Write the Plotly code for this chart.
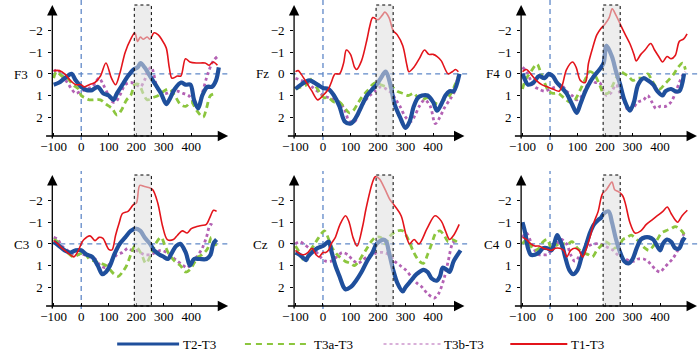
import plotly.graph_objects as go

# ---------------- data (ms, µV) ----------------
channels = ["F3", "Fz", "F4", "C3", "Cz", "C4"]
series_names = ["T3b-T3", "T3a-T3", "T2-T3", "T1-T3"]
x_tickvals = [-100, 0, 100, 200, 300, 400]
y_tickvals = [-2, -1, 0, 1, 2]
window_ms = [193, 255]

# F3
f3_t1_t = [-100,-80,-60,-40,-20,0,10,30,50,70,90,110,125,140,160,180,195,205,215,225,240,250,265,280,292,309,320,330,350,362,379,395,420,450,465,480,495]
f3_t1_v = [-0.15,-0.15,0,0.3,0.5,0.5,0.6,0.5,0.4,0.1,-0.5,0.2,0.5,0.0,-1.0,-1.6,-1.9,-1.5,-1.7,-1.6,-1.7,-1.6,-1.9,-1.8,-1.6,-1.2,-0.3,0.2,0.1,0.1,-0.7,-0.55,-0.5,-0.5,-0.4,-0.55,-0.4]
f3_t2_t = [-100,-80,-60,-35,-20,0,20,40,60,80,100,117,130,150,170,190,205,216,230,250,270,290,309,320,340,363,380,397,410,425,440,458,475,490,500]
f3_t2_v = [0.5,0.4,0.2,0.0,0.3,0.6,0.75,0.75,0.6,0.9,1.0,1.2,0.9,0.5,0.1,-0.2,-0.3,-0.5,-0.3,0.1,0.5,0.9,1.4,1.2,0.7,0.4,0.5,0.5,1.2,1.6,1.0,0.6,0.6,0.3,-0.3]
f3_t3a_t = [-100,-90,-70,-50,-30,-10,0,13,30,50,70,90,112,130,145,165,180,195,210,225,240,260,280,300,320,340,360,380,400,420,443,455,470,490]
f3_t3a_v = [0.2,-0.1,0.1,0.2,0.5,0.7,1.0,1.1,1.2,1.2,1.2,1.4,1.6,1.9,1.7,1.2,1.0,0.5,0.5,0.9,1.2,1.1,1.0,0.8,0.7,1.0,1.4,1.5,1.3,1.7,2.0,1.6,1.0,0.9]
f3_t3b_t = [-100,-85,-70,-50,-35,-20,0,20,40,65,80,100,115,125,140,160,180,200,215,230,245,255,275,290,310,330,350,370,390,410,425,440,460,480,495]
f3_t3b_v = [-0.1,-0.2,0.1,0.4,0.7,0.9,0.8,0.7,0.6,0.2,0.5,1.0,1.3,1.3,1.0,0.5,0.4,0.5,0.6,0.3,-0.2,-0.3,0.6,0.9,0.9,0.8,0.8,0.9,1.0,1.3,1.5,0.9,0.0,-0.6,-0.8]

# Fz
fz_t1_t = [-100,-90,-80,-60,-40,-19,0,20,30,44,60,75,85,100,115,122,140,160,170,181,200,215,225,240,255,270,290,305,312,330,350,369,385,400,415,430,455,470,482,492]
fz_t1_v = [-0.1,-0.15,0.0,0.4,0.8,1.2,1.0,0.7,0.4,0.0,0.0,-0.5,-1.1,-0.9,-0.3,-0.2,-0.6,-1.6,-2.2,-2.6,-2.5,-2.7,-2.85,-2.6,-2.0,-1.8,-1.3,-0.4,-0.1,-0.3,-0.7,-1.1,-0.9,-0.9,-0.8,-0.6,0.0,-0.1,-0.2,-0.1]
fz_t2_t = [-100,-80,-50,-20,0,20,40,60,79,100,110,125,140,160,180,195,210,228,245,260,280,300,315,330,345,360,380,400,414,430,445,460,475,496]
fz_t2_v = [0.7,0.5,0.3,0.5,0.65,0.7,1.0,1.5,2.2,2.3,2.2,1.9,1.5,1.0,0.7,0.5,0.2,-0.1,0.5,1.4,2.0,2.5,2.2,1.5,1.1,1.0,1.0,1.3,1.7,1.4,1.0,0.8,0.8,0.0]
fz_t3a_t = [-100,-80,-60,-50,-30,-10,4,20,40,60,80,96,110,125,140,160,180,195,210,230,250,270,290,310,330,345,360,380,400,420,440,460,480,495]
fz_t3a_v = [0.7,0.6,0.5,0.2,0.5,0.9,1.1,1.1,1.3,1.3,1.6,1.8,1.7,1.4,1.1,0.8,0.5,0.4,0.5,0.6,0.6,0.8,0.9,1.0,0.9,1.1,1.2,1.1,1.3,1.4,1.2,1.0,0.5,0.0]
fz_t3b_t = [-100,-80,-60,-40,-20,0,20,40,60,80,96,115,130,150,170,190,210,230,250,265,280,300,320,335,350,370,390,408,425,440,460,475,490]
fz_t3b_v = [0.2,0.3,0.4,0.6,0.8,1.0,1.1,1.2,1.3,1.7,2.2,2.2,1.8,1.3,1.0,0.8,0.6,0.7,0.9,1.2,1.5,2.0,2.2,1.9,1.5,1.2,1.5,2.3,2.0,1.6,1.2,0.9,0.1]

# F4
f4_t1_t = [-100,-85,-70,-50,-30,-10,10,33,45,60,82,95,110,128,140,155,170,185,200,215,226,240,255,270,290,305,313,330,345,366,380,395,409,425,440,455,470,485,498]
f4_t1_v = [-0.1,-0.2,0.0,0.3,0.5,0.6,0.7,0.8,0.5,-0.2,-0.55,-0.3,0.3,0.4,-0.5,-1.2,-1.8,-2.1,-2.3,-2.6,-3.0,-2.7,-2.3,-1.9,-1.4,-0.9,-0.6,-0.9,-1.1,-1.4,-1.1,-0.8,-0.55,-0.8,-0.7,-0.85,-1.5,-1.6,-1.85]
f4_t2_t = [-100,-90,-80,-60,-40,-20,-5,10,25,40,60,80,97,110,125,140,160,180,195,205,225,240,255,270,290,305,320,340,355,375,390,409,420,440,455,470,487]
f4_t2_v = [0.0,0.3,0.5,0.4,0.1,0.2,0.0,0.1,0.4,0.6,0.9,1.4,1.8,1.4,0.9,0.5,0.1,-0.2,-0.5,-1.3,-0.8,-0.1,0.5,1.2,1.7,1.3,0.5,0.2,0.3,0.5,0.8,1.0,0.8,0.7,0.8,0.8,0.0]
f4_t3a_t = [-100,-90,-75,-47,-35,-20,-5,10,30,50,70,85,100,115,130,144,160,180,195,210,225,240,255,270,285,300,320,340,355,370,385,400,415,430,450,465,482,492]
f4_t3a_v = [0.7,0.3,0.0,-0.45,-0.1,0.4,0.8,0.9,0.9,1.1,1.3,1.3,1.0,0.6,0.2,-0.1,0.0,0.5,0.9,0.9,0.6,0.2,-0.1,0.0,0.1,0.3,0.2,0.2,0.0,0.3,0.6,0.7,0.5,0.3,0.0,-0.3,-0.5,-0.2]
f4_t3b_t = [-100,-85,-70,-55,-40,-20,0,20,40,60,80,95,110,125,140,150,165,180,195,205,220,240,255,270,285,300,320,340,355,370,385,400,420,440,455,470,485,492]
f4_t3b_v = [-0.3,-0.1,0.3,0.6,0.7,0.8,0.7,0.6,0.5,0.8,1.0,1.2,1.1,0.8,0.4,0.3,0.4,0.4,0.8,1.0,0.9,0.5,0.9,1.3,1.7,1.6,1.3,1.2,1.0,1.3,1.6,1.5,1.5,1.3,0.9,0.4,0.0,-0.1]

# C3
c3_t1_t = [-100,-85,-70,-50,-27,-10,0,10,32,50,65,79,100,112,125,138,150,170,189,201,213,230,245,260,278,296,313,335,350,367,385,400,420,437,455,467,481,492]
c3_t1_v = [-0.15,0.0,0.2,0.4,0.6,0.3,0.0,-0.2,-0.37,-0.15,-0.3,-0.25,0.25,0.28,-0.4,-0.96,-1.4,-1.5,-1.8,-1.9,-2.7,-2.65,-2.6,-2.5,-1.9,-0.8,-0.2,-0.2,-0.4,-0.6,-0.5,-0.7,-0.8,-0.85,-0.9,-1.2,-1.55,-1.5]
c3_t2_t = [-100,-80,-60,-40,-20,0,20,40,60,77,90,105,120,140,160,180,198,215,230,250,265,285,300,315,330,345,360,380,395,410,430,455,470,480,492]
c3_t2_v = [-0.1,0.1,0.3,0.4,0.3,0.3,0.5,0.6,1.0,1.4,1.3,1.0,0.5,0.0,-0.3,-0.6,-0.7,-0.6,-0.3,0.0,0.3,0.5,0.6,0.7,0.4,0.1,0.0,0.4,1.0,0.7,0.7,0.7,0.5,0.0,-0.2]
c3_t3a_t = [-100,-85,-70,-50,-30,-10,10,30,50,70,90,105,120,135,150,165,180,195,205,220,235,250,270,290,305,320,340,360,380,395,410,425,440,460,473,490]
c3_t3a_v = [-0.2,-0.1,0.2,0.4,0.6,0.5,0.4,0.7,0.8,0.9,1.0,1.2,1.4,1.5,1.3,1.0,0.5,0.1,0.2,0.5,0.9,0.6,0.0,-0.3,0.1,0.5,0.8,1.0,1.3,1.2,0.9,0.6,0.5,0.2,-0.3,0.1]
c3_t3b_t = [-100,-85,-70,-50,-30,-10,10,30,50,70,90,110,130,150,170,185,200,215,230,250,270,290,310,330,350,370,385,400,420,440,455,470,482]
c3_t3b_v = [-0.3,-0.2,0.1,0.3,0.5,0.5,0.5,0.6,0.7,1.0,1.1,0.8,0.5,0.4,0.2,0.3,0.3,0.4,0.5,0.5,0.4,0.3,0.4,0.6,0.8,1.0,1.1,0.9,0.6,0.2,-0.3,-0.9,-0.8]

# Cz
cz_t1_t = [-100,-85,-70,-55,-40,-25,-15,0,10,20,30,45,62,82,95,109,124,144,156,179,190,205,226,243,261,284,302,315,331,349,378,407,430,445,460,475,495]
cz_t1_v = [0.3,0.45,0.5,0.4,0.2,0.5,0.6,0.4,0.4,0.3,0.0,-0.3,-0.9,-1.3,-1.0,-0.3,0.1,-0.8,-1.6,-2.8,-3.1,-3.0,-2.5,-2.05,-1.75,-1.3,-0.4,0.0,-0.2,0.0,-0.7,-1.3,-1.05,-0.6,-0.2,-0.4,-0.9]
cz_t2_t = [-100,-85,-61,-55,-40,-20,0,21,30,45,60,75,82,100,120,140,160,180,195,220,230,240,255,270,290,300,320,340,366,380,395,413,425,435,450,460,475,500]
cz_t2_v = [0.4,0.5,0.75,0.6,0.4,0.2,0.1,-0.1,0.3,1.0,1.5,2.0,2.1,2.0,1.7,1.3,0.8,0.4,0.0,-0.2,-0.1,0.4,1.2,1.8,2.2,2.0,1.7,1.4,1.2,1.3,1.6,1.7,1.5,1.1,1.2,1.3,0.8,0.3]
cz_t3a_t = [-100,-85,-67,-55,-45,-30,-15,5,15,30,45,60,80,100,115,130,145,160,175,190,210,225,240,255,270,290,310,330,350,365,380,395,410,425,440,455,470,485,495]
cz_t3a_v = [0.1,0.4,0.8,0.6,0.3,0.0,-0.3,-0.6,-0.4,0.1,0.4,0.6,0.8,0.9,1.0,0.8,0.5,0.2,-0.1,-0.3,-0.3,0.0,-0.3,-0.5,-0.6,-0.6,-0.2,0.4,0.8,0.9,0.5,0.0,-0.5,-0.6,-0.4,-0.1,-0.2,-0.1,0.0]
cz_t3b_t = [-100,-85,-70,-50,-30,-10,10,30,50,70,90,105,126,140,160,180,200,220,240,260,280,300,320,340,360,380,405,420,440,455,470,483]
cz_t3b_v = [0.0,-0.1,0.0,0.2,0.3,0.6,0.8,0.8,0.6,0.4,0.5,0.7,0.9,0.8,0.6,0.5,0.4,0.4,0.5,0.8,1.0,1.2,1.5,1.8,2.0,2.3,2.5,2.3,1.6,0.8,0.0,-0.2]

# C4
c4_t1_t = [-100,-85,-70,-55,-40,-25,-10,5,20,35,50,61,75,90,105,119,130,145,160,175,190,205,225,235,250,265,275,290,309,330,350,370,390,410,426,440,455,464,480,499]
c4_t1_v = [-0.3,-0.2,0.0,0.1,0.1,0.2,0.25,0.3,0.2,0.2,0.3,0.6,0.3,0.2,0.3,0.6,0.3,-0.3,-1.0,-1.5,-2.3,-2.5,-2.85,-2.5,-2.4,-2.2,-1.8,-1.0,-0.5,-0.6,-0.9,-1.1,-1.3,-1.5,-1.7,-1.4,-1.1,-1.0,-1.3,-1.55]
c4_t2_t = [-100,-90,-80,-70,-55,-40,-25,-10,5,15,26,35,45,55,70,84,100,115,130,145,160,175,185,195,213,225,240,255,270,285,300,315,330,345,360,375,385,400,410,425,440,455,470,480,490]
c4_t2_v = [-1.0,-0.5,0.2,0.5,0.5,0.4,0.2,0.2,0.3,0.0,-0.4,-0.2,0.1,0.6,1.2,1.4,1.2,0.6,0.1,-0.5,-0.9,-1.1,-1.2,-1.4,-1.5,-1.0,-0.2,0.4,0.8,0.9,0.7,0.2,-0.2,-0.3,-0.3,-0.2,0.0,0.3,0.0,-0.2,-0.1,0.2,0.2,-0.1,-0.3]
c4_t3a_t = [-100,-85,-70,-55,-40,-25,-10,5,20,35,50,65,80,100,120,140,154,170,185,200,215,235,250,265,280,295,315,330,345,360,375,390,405,420,440,455,470,485,495]
c4_t3a_v = [0.0,-0.2,0.1,0.3,0.2,-0.1,-0.2,0.2,0.0,0.2,0.0,0.0,-0.1,0.2,0.4,0.5,0.6,0.3,0.1,-0.1,0.0,0.2,0.1,-0.2,-0.3,-0.4,-0.2,0.0,0.2,0.3,0.1,-0.2,-0.5,-0.6,-0.7,-0.8,-0.7,-0.5,-0.3]
c4_t3b_t = [-100,-85,-70,-55,-40,-25,-10,5,20,40,60,75,90,105,120,140,160,180,200,215,230,245,260,275,290,305,320,340,355,370,385,400,415,430,445,460,475,488]
c4_t3b_v = [-0.3,-0.5,-0.1,0.3,0.5,0.5,0.5,0.3,0.1,-0.2,0.0,0.5,0.8,0.6,0.3,0.1,0.0,0.0,0.1,0.2,0.3,0.5,0.6,0.7,0.8,0.8,0.7,0.7,0.8,1.0,1.2,1.3,1.1,0.9,0.7,0.4,0.0,-0.6]

panel_data = {
    "F3": [(f3_t3b_t, f3_t3b_v), (f3_t3a_t, f3_t3a_v), (f3_t2_t, f3_t2_v), (f3_t1_t, f3_t1_v)],
    "Fz": [(fz_t3b_t, fz_t3b_v), (fz_t3a_t, fz_t3a_v), (fz_t2_t, fz_t2_v), (fz_t1_t, fz_t1_v)],
    "F4": [(f4_t3b_t, f4_t3b_v), (f4_t3a_t, f4_t3a_v), (f4_t2_t, f4_t2_v), (f4_t1_t, f4_t1_v)],
    "C3": [(c3_t3b_t, c3_t3b_v), (c3_t3a_t, c3_t3a_v), (c3_t2_t, c3_t2_v), (c3_t1_t, c3_t1_v)],
    "Cz": [(cz_t3b_t, cz_t3b_v), (cz_t3a_t, cz_t3a_v), (cz_t2_t, cz_t2_v), (cz_t1_t, cz_t1_v)],
    "C4": [(c4_t3b_t, c4_t3b_v), (c4_t3a_t, c4_t3a_v), (c4_t2_t, c4_t2_v), (c4_t1_t, c4_t1_v)],
}

# ---------------- styling / layout ----------------
W, H = 700, 351
FONT = "Liberation Serif, Times New Roman, Times, serif"
styles = [
    dict(color="#b462b4", width=2.8, dash="dot"),      # T3b-T3
    dict(color="#8cc63e", width=2.8, dash="6px,4px"),  # T3a-T3
    dict(color="#1f4f9c", width=4.2, dash="solid"),    # T2-T3
    dict(color="#e3141b", width=1.6, dash="solid"),    # T1-T3
]
X_RANGE = [-105, 545]
Y_RANGE = [2.87, -3.18]
col_px = [(41, 223), (287, 469), (518, 700)]
row_px = [(5, 136), (175, 306)]
arrow_end = [534, 514, 534]
hline_px = [(40, 222), (284, 466), (518, 700)]
vline_px = [(0, 140), (171, 309)]
label_pos = {"F3": (0, 74), "Fz": (246, 73), "F4": (480, 73),
             "C3": (0, 244), "Cz": (243, 244), "C4": (478, 244)}

def px_x(p): return p / W
def px_y(p): return 1 - p / H

fig = go.Figure()
layout = dict(width=W, height=H, margin=dict(l=0, r=0, t=0, b=0),
              paper_bgcolor="white", plot_bgcolor="white", showlegend=False,
              font=dict(family=FONT, size=13, color="black"))
shapes, annotations = [], []
dash_col = "#5f88c8"

for i, ch in enumerate(channels):
    r, c = divmod(i, 3)
    n = "" if i == 0 else str(i + 1)
    xa, ya = "x" + n, "y" + n
    for (t, v), st in zip(panel_data[ch], styles):
        fig.add_trace(go.Scatter(x=t, y=v, mode="lines", xaxis=xa, yaxis=ya,
                                 line=dict(color=st["color"], width=st["width"], dash=st["dash"],
                                           shape="spline", smoothing=0.9),
                                 hoverinfo="skip"))
    layout["xaxis" + n] = dict(domain=[px_x(col_px[c][0]), px_x(col_px[c][1])], range=X_RANGE,
                               anchor=ya, showgrid=False, zeroline=False, showline=False,
                               tickvals=x_tickvals, ticks="inside", ticklen=3, tickcolor="black",
                               tickfont=dict(family=FONT, size=13, color="black"), ticklabelstandoff=1)
    layout["yaxis" + n] = dict(domain=[px_y(row_px[r][1]), px_y(row_px[r][0])], range=Y_RANGE,
                               anchor=xa, showgrid=False, zeroline=False, showline=False,
                               tickvals=y_tickvals, ticks="outside", ticklen=3, tickcolor="black",
                               tickfont=dict(family=FONT, size=13, color="black"), ticklabelstandoff=3)
    # dashed zero lines
    shapes.append(dict(type="line", xref=xa, yref="paper", x0=0, x1=0,
                       y0=px_y(vline_px[r][1]), y1=px_y(vline_px[r][0]),
                       line=dict(color=dash_col, width=1.3, dash="5px,4px"), layer="below"))
    shapes.append(dict(type="line", xref="paper", yref=ya, y0=0, y1=0,
                       x0=px_x(hline_px[c][0]), x1=px_x(hline_px[c][1]),
                       line=dict(color=dash_col, width=1.2, dash="5px,4px"), layer="below"))
    # highlighted window
    shapes.append(dict(type="rect", xref=xa, yref=ya + " domain", x0=window_ms[0], x1=window_ms[1],
                       y0=0, y1=1, fillcolor="rgba(222,222,222,0.55)",
                       line=dict(color="black", width=1, dash="dot"), layer="above"))
    # axes with arrows
    annotations.append(dict(xref=xa, yref=ya, axref=xa, ayref=ya, x=arrow_end[c], y=Y_RANGE[0],
                            ax=-133, ay=Y_RANGE[0], text="", showarrow=True, arrowhead=2,
                            arrowsize=1.6, arrowwidth=1.3, arrowcolor="black", standoff=0))
    annotations.append(dict(xref=xa, yref=ya, axref=xa, ayref=ya, x=X_RANGE[0], y=Y_RANGE[1],
                            ax=X_RANGE[0], ay=3.05, text="", showarrow=True, arrowhead=2,
                            arrowsize=1.6, arrowwidth=1.3, arrowcolor="black", standoff=0))
    lx, ly = label_pos[ch]
    annotations.append(dict(xref="paper", yref="paper", x=px_x(lx), y=px_y(ly), text=ch,
                            showarrow=False, xanchor="left", yanchor="middle",
                            font=dict(family=FONT, size=13, color="black")))

# legend (manual)
legend_items = [("T2-T3", 107, 170, styles[2], 3.0),
                ("T3a-T3", 237, 303, styles[1], 2.2),
                ("T3b-T3", 378, 436, styles[0], 1.2),
                ("T1-T3", 507, 565, styles[3], 2.0)]
LY = 344
for name, x0, x1, st, w in legend_items:
    shapes.append(dict(type="line", xref="paper", yref="paper", x0=px_x(x0), x1=px_x(x1),
                       y0=px_y(LY), y1=px_y(LY),
                       line=dict(color=st["color"], width=w,
                                 dash=("6px,5px" if st["dash"] not in ("solid", "dot") else st["dash"]))))
    annotations.append(dict(xref="paper", yref="paper", x=px_x(x1 + 2), y=px_y(LY), text=name,
                            showarrow=False, xanchor="left", yanchor="middle",
                            font=dict(family=FONT, size=13, color="black")))

layout["shapes"] = shapes
layout["annotations"] = annotations
fig.update_layout(**layout)
fig.write_html("out.html")
